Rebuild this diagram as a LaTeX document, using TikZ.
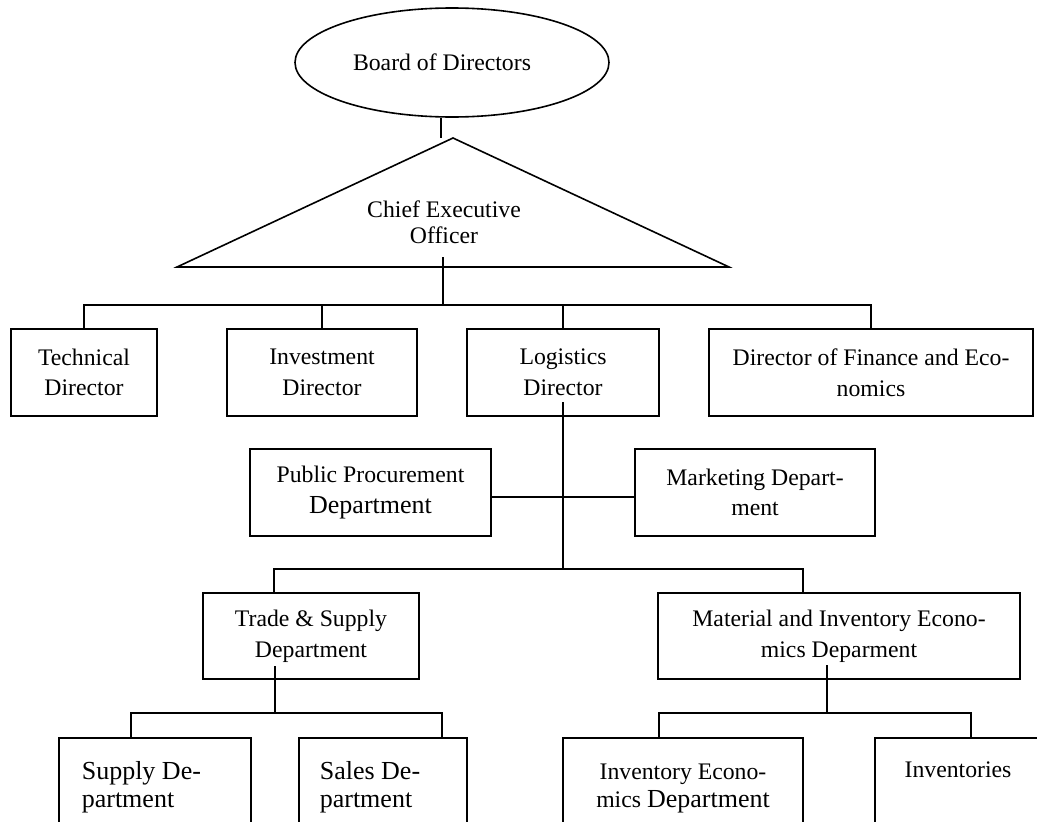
\documentclass[tikz,border=0pt]{standalone}
\usepackage{fontspec}
\setmainfont{Liberation Serif}
\usetikzlibrary{shapes.geometric}
\newcommand\orgN{\fontsize{17.8pt}{23pt}\selectfont}
\newcommand\orgL{\fontsize{19.5pt}{23pt}\selectfont}
\begin{document}
\begin{tikzpicture}[x=0.75pt,y=-0.75pt,line width=1.2pt,
  box/.style={draw, rectangle, inner sep=0pt, align=center, font=\orgN},
  rowone/.style={box, minimum height=65.25pt},
  rowtwo/.style={box, minimum height=65.25pt},
  rowthree/.style={box, minimum height=64.5pt},
  rowfour/.style={draw, rectangle, inner sep=0pt, anchor=north, minimum height=99.75pt},
  lbl/.style={inner sep=0pt, align=left, anchor=north west, font=\fontsize{19.5pt}{21pt}\selectfont}]
\clip (0,0) rectangle (1037,821);

% top
\node[draw, ellipse, inner sep=0pt, minimum width=235.5pt, minimum height=81.75pt, font=\orgN]
  (bod) at (452,62.5) {\hspace*{-15pt}\raisebox{-4.5pt}{Board of Directors}};
\coordinate (apex) at (453,138);
\coordinate (tl) at (177,267);
\coordinate (tr) at (729,267);
\draw (apex) -- (tl) -- (tr) -- cycle;
\node[inner sep=0pt, align=center, font=\fontsize{17.8pt}{19.5pt}\selectfont]
  (ceo) at (444,222) {Chief Executive\\Officer};

% row 1
\node[rowone, minimum width=109.5pt] (tech) at (84,372.5) {Technical\\Director};
\node[rowone, minimum width=142.5pt] (inv) at (322,372.5) {Investment\\Director};
\node[rowone, minimum width=144pt] (log) at (563,372.5) {Logistics\\Director};
\node[rowone, minimum width=243pt] (fin) at (871,372.5) {Director of Finance and Eco-\\nomics};

% row 2
\node[rowtwo, minimum width=180.75pt] (pub) at (370.5,492.5) {Public Procurement\\{\orgL Department}};
\node[rowtwo, minimum width=180pt] (mkt) at (755,492.5) {Marketing Depart-\\ment};

% row 3
\node[rowthree, minimum width=162pt] (trd) at (311,636) {Trade \& Supply\\Department};
\node[rowthree, minimum width=271.5pt] (mat) at (839,636) {Material and Inventory Econo-\\mics Deparment};

% row 4
\node[rowfour, minimum width=143.6pt] (sup) at (155,737) {};
\node[rowfour, minimum width=126pt] (sal) at (383,737) {};
\node[rowfour, minimum width=180pt] (iec) at (683,737) {};
\node[rowfour, minimum width=124.5pt] (inv2) at (958,737) {};
\node[lbl] (suptext) at (81,761) {Supply De-\\partment};
\node[lbl] (saltext) at (319,761) {Sales De-\\partment};
\node[inner sep=0pt, align=center, anchor=north, font=\fontsize{17.8pt}{21pt}\selectfont]
  (iectext) at (683,763) {Inventory Econo-\\mics {\orgL Department}};
\node[inner sep=0pt, anchor=north, font=\orgN] (invtext) at (958,761) {Inventories};

% connectors
\coordinate (bodstub) at (441,138);
\draw (bod.south -| bodstub) -- (bodstub);
\coordinate (ceostub) at (443,257);
\coordinate (b1) at (443,305);
\draw (ceostub) -- (b1);
\draw (tech.north) |- (b1) -| (fin.north);
\draw (inv.north) -- (inv.north |- b1);
\draw (log.north) -- (log.north |- b1);

\coordinate (logstub) at (563,402);
\coordinate (b2) at (563,569);
\draw (logstub) -- (b2);
\coordinate (h) at (563,497);
\draw (pub.east |- h) -- (mkt.west |- h);
\coordinate (b2l) at (274,569);
\coordinate (b2r) at (803,569);
\draw (b2l |- trd.north) -- (b2l) -- (b2r) -- (b2r |- mat.north);

\coordinate (trdstub) at (275,666);
\coordinate (b3a) at (275,713);
\draw (trdstub) -- (b3a);
\coordinate (b3al) at (131,713);
\coordinate (b3ar) at (442,713);
\draw (b3al |- sup.north) -- (b3al) -- (b3ar) -- (b3ar |- sal.north);

\coordinate (matstub) at (827,665);
\coordinate (b3b) at (827,713);
\draw (matstub) -- (b3b);
\coordinate (b3bl) at (659,713);
\coordinate (b3br) at (971,713);
\draw (b3bl |- iec.north) -- (b3bl) -- (b3br) -- (b3br |- inv2.north);
\end{tikzpicture}
\end{document}
